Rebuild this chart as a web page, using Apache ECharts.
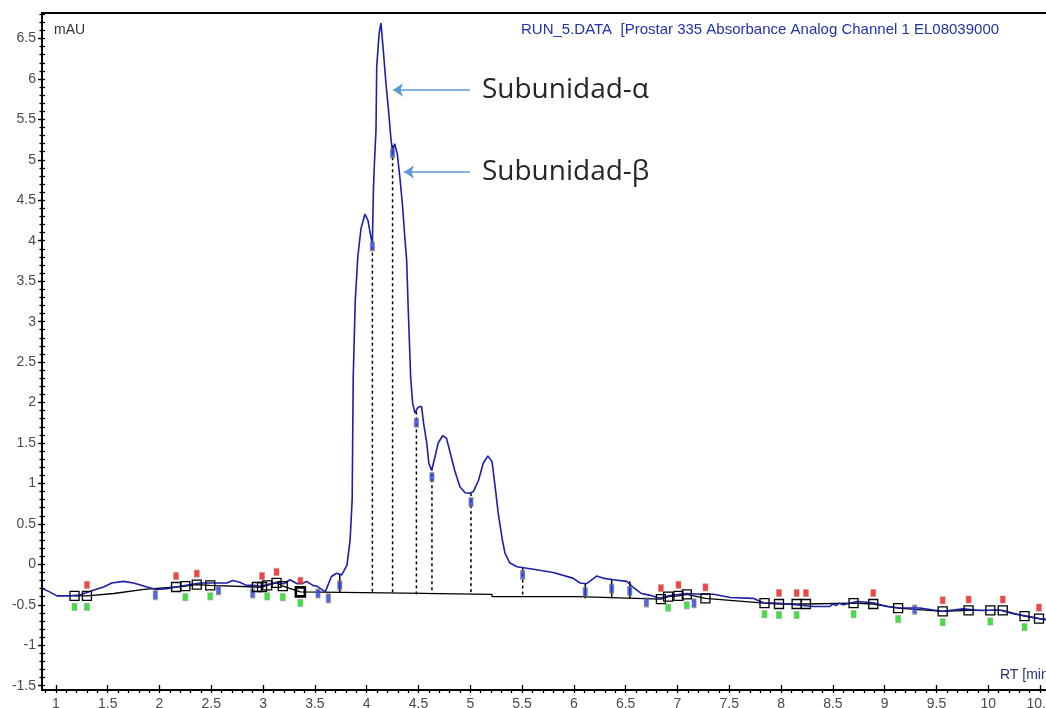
<!DOCTYPE html>
<html>
<head>
<meta charset="utf-8">
<script src="https://cdn.jsdelivr.net/npm/echarts@6/dist/echarts.min.js"></script>
<style>
  html, body { margin: 0; padding: 0; background: #fff; }
  #chart { width: 1046px; height: 708px; }
</style>
</head>
<body>
<div id="chart"></div>
<script>
// trace (RT in min, signal in mAU)
const traceT = [0.87, 0.94, 1.01, 1.14, 1.23, 1.36, 1.46, 1.54, 1.65, 1.75, 1.88, 1.97, 2.07, 2.20, 2.39, 2.55, 2.65, 2.71, 2.78, 2.84,
  2.91, 2.97, 3.04, 3.13, 3.20, 3.26, 3.33, 3.39, 3.42, 3.48, 3.52, 3.60, 3.66, 3.71, 3.76, 3.81, 3.84, 3.86, 3.87, 3.89,
  3.915, 3.945, 3.984, 4.013, 4.04, 4.055, 4.065, 4.075, 4.09, 4.097, 4.12, 4.138, 4.16, 4.186, 4.21, 4.235, 4.25, 4.27, 4.295, 4.32,
  4.347, 4.37, 4.386, 4.40, 4.425, 4.444, 4.466, 4.49, 4.51, 4.53, 4.55, 4.58, 4.60, 4.627, 4.66, 4.69, 4.733, 4.77, 4.80, 4.85,
  4.90, 4.95, 5.00, 5.03, 5.08, 5.125, 5.17, 5.21, 5.24, 5.27, 5.31, 5.335, 5.38, 5.45, 5.61, 5.80, 5.99, 6.06, 6.12, 6.22,
  6.28, 6.38, 6.51, 6.57, 6.65, 6.73, 6.83, 6.91, 7.09, 7.22, 7.35, 7.51, 7.73, 7.83, 7.99, 8.31, 8.47, 8.50, 8.53, 8.56,
  8.60, 8.73, 8.89, 9.02, 9.15, 9.34, 9.47, 9.56, 9.76, 9.92, 10.11, 10.24, 10.37, 10.53, 10.61];
const traceV = [-0.30, -0.34, -0.39, -0.39, -0.38, -0.32, -0.28, -0.23, -0.21, -0.23, -0.28, -0.31, -0.30, -0.27, -0.23, -0.23, -0.23, -0.20, -0.225, -0.26,
  -0.26, -0.27, -0.25, -0.22, -0.24, -0.19, -0.24, -0.23, -0.21, -0.26, -0.27, -0.34, -0.15, -0.11, -0.13, -0.01, 0.30, 0.80, 2.30, 3.27,
  3.81, 4.15, 4.33, 4.25, 4.05, 3.97, 4.63, 4.96, 5.37, 6.15, 6.56, 6.69, 6.36, 5.95, 5.62, 5.25, 5.10, 5.20, 5.08, 4.79,
  4.42, 4.01, 3.76, 3.20, 2.30, 1.99, 1.87, 1.93, 1.95, 1.95, 1.74, 1.50, 1.25, 1.16, 1.33, 1.50, 1.59, 1.56, 1.41, 1.16,
  0.96, 0.885, 0.88, 0.90, 1.04, 1.25, 1.34, 1.27, 0.96, 0.63, 0.30, 0.14, 0.02, -0.03, -0.06, -0.10, -0.17, -0.23, -0.24, -0.145,
  -0.17, -0.19, -0.21, -0.28, -0.36, -0.38, -0.42, -0.39, -0.36, -0.37, -0.37, -0.41, -0.42, -0.475, -0.48, -0.52, -0.52, -0.49, -0.51, -0.48,
  -0.50, -0.46, -0.475, -0.52, -0.54, -0.54, -0.565, -0.58, -0.55, -0.57, -0.565, -0.61, -0.64, -0.68, -0.69];

// integration baseline
const baseT = [1.18, 1.30, 1.56, 1.85, 2.16, 2.25, 2.36, 2.49, 2.94, 2.99, 3.04, 3.13, 3.19, 3.36, 4.37, 4.37, 5.21, 5.21, 6.04, 6.04,
  6.84, 6.91, 7.01, 7.09, 7.27, 7.84, 7.98, 8.15, 8.24, 8.70, 8.89, 9.13, 9.56, 9.81, 10.02, 10.14, 10.35, 10.49, 10.61];
const baseV = [-0.39, -0.39, -0.36, -0.31, -0.28, -0.27, -0.25, -0.26, -0.28, -0.28, -0.26, -0.23, -0.27, -0.34, -0.355, -0.37, -0.37, -0.40, -0.40, -0.42,
  -0.43, -0.40, -0.39, -0.37, -0.42, -0.48, -0.49, -0.49, -0.49, -0.48, -0.49, -0.54, -0.58, -0.57, -0.57, -0.57, -0.64, -0.67, -0.69];

// peak boundary boxes and their event flags (R = red, G = green, B = bold box)
const boxT = [1.18, 1.30, 2.16, 2.25, 2.36, 2.49, 2.94, 2.99, 3.04, 3.13, 3.19, 3.36, 6.84, 6.91, 7.01, 7.09, 7.27, 7.84, 7.98, 8.15,
  8.24, 8.70, 8.89, 9.13, 9.56, 9.81, 10.02, 10.14, 10.35, 10.49];
const boxV = [-0.39, -0.39, -0.28, -0.27, -0.25, -0.26, -0.28, -0.28, -0.26, -0.23, -0.27, -0.34, -0.43, -0.40, -0.39, -0.37, -0.42, -0.48, -0.49, -0.49,
  -0.49, -0.48, -0.49, -0.54, -0.58, -0.57, -0.57, -0.57, -0.64, -0.67];
const boxFlags = ['G', 'RG', 'R', 'G', 'R', 'G', '', 'R', 'G', 'R', 'G', 'RGB', 'R', 'G', 'R', 'G', 'R', 'G', 'RG', 'RG',
  'R', 'G', 'R', 'G', 'RG', 'R', 'G', 'R', 'G', 'R'];

// blue peak markers
const blueT = [1.96, 2.57, 2.90, 3.53, 3.63, 3.74, 4.055, 4.25, 4.48, 4.63, 5.007, 5.506, 6.11, 6.365, 6.54, 6.70, 7.16, 9.29];
const blueV = [-0.38, -0.32, -0.36, -0.36, -0.42, -0.26, 3.93, 5.08, 1.75, 1.08, 0.77, -0.13, -0.34, -0.30, -0.33, -0.47, -0.48, -0.56];

// drop lines: [RT, top, bottom]
const dropDashed = [[4.055, 4.0, -0.355], [4.25, 5.18, -0.355], [4.48, 1.89, -0.37], [4.63, 1.2, -0.37], [5.007, 0.88, -0.37], [5.506, -0.04, -0.40]];
const dropSolid = [[3.74, -0.13, -0.355], [6.11, -0.23, -0.42], [6.365, -0.18, -0.42], [6.54, -0.21, -0.42]];

// annotations: [name, tip RT, tail RT, mAU]
const notes = [['Subunidad-α', 4.254, 4.997, 5.863], ['Subunidad-β', 4.36, 4.997, 4.85]];

const xTicks = [1, 1.5, 2, 2.5, 3, 3.5, 4, 4.5, 5, 5.5, 6, 6.5, 7, 7.5, 8, 8.5, 9, 9.5, 10, 10.5];
const yTicks = [-1.5, -1, -0.5, 0, 0.5, 1, 1.5, 2, 2.5, 3, 3.5, 4, 4.5, 5, 5.5, 6, 6.5];

const X_MIN = 0.866, X_MAX = 10.596, Y_MIN = -1.553, Y_MAX = 6.815;

const xMinor = [];
for (let k = 9; k <= 106; k++) xMinor.push(k / 10);
const yMinor = [];
for (let k = -15; k <= 68; k++) yMinor.push(k / 10);

const pairs = (a, b) => a.map((t, i) => [t, b[i]]);

const chart = echarts.init(document.getElementById('chart'));

const tickStyle = { color: '#000', width: 1.3 };
const labelStyle = { color: '#4a4a4a', fontSize: 14, fontFamily: 'Liberation Sans' };

function dropRender(dash) {
  return function (params, api) {
    const a = api.coord([api.value(0), api.value(1)]);
    const b = api.coord([api.value(0), api.value(2)]);
    return {
      type: 'line',
      shape: { x1: a[0], y1: a[1], x2: b[0], y2: b[1] },
      style: { stroke: '#000', lineWidth: 1.5, lineDash: dash }
    };
  };
}

const boxData = pairs(boxT, boxV).map((d, i) => boxFlags[i].indexOf('B') >= 0
  ? { value: d, itemStyle: { borderWidth: 2.6 } }
  : d);

chart.setOption({
  animation: false,
  grid: {
    left: 42, right: -4, top: 13, bottom: 18,
    show: true, borderColor: '#000', borderWidth: 2,
    outerBoundsMode: 'none', containLabel: false
  },
  xAxis: [{
    type: 'value', min: X_MIN, max: X_MAX, position: 'bottom',
    axisLine: { onZero: false, lineStyle: { color: '#000', width: 2 } },
    axisTick: { show: true, inside: true, length: 5, customValues: xTicks, lineStyle: tickStyle },
    axisLabel: Object.assign({ customValues: xTicks, margin: 7, formatter: v => String(v) }, labelStyle),
    splitLine: { show: false }
  }, {
    type: 'value', min: X_MIN, max: X_MAX, position: 'bottom',
    axisLine: { show: false, onZero: false },
    axisTick: { show: true, inside: false, length: 3, customValues: xMinor, lineStyle: tickStyle },
    axisLabel: { show: false },
    splitLine: { show: false }
  }],
  yAxis: [{
    type: 'value', min: Y_MIN, max: Y_MAX, position: 'left',
    axisLine: { show: true, onZero: false, lineStyle: { color: '#000', width: 2 } },
    axisTick: { show: true, inside: false, length: 4, customValues: yTicks, lineStyle: tickStyle },
    axisLabel: Object.assign({ customValues: yTicks, margin: 6, formatter: v => String(v) }, labelStyle),
    splitLine: { show: false }
  }, {
    type: 'value', min: Y_MIN, max: Y_MAX, position: 'left',
    axisLine: { show: false, onZero: false },
    axisTick: { show: true, inside: true, length: 3, customValues: yMinor, lineStyle: tickStyle },
    axisLabel: { show: false },
    splitLine: { show: false }
  }, {
    type: 'value', min: Y_MIN, max: Y_MAX, position: 'left',
    axisLine: { show: false, onZero: false },
    axisTick: { show: true, inside: false, length: 2.5, customValues: yMinor, lineStyle: tickStyle },
    axisLabel: { show: false },
    splitLine: { show: false }
  }],
  graphic: [
    { type: 'text', left: 54, top: 23, style: { text: 'mAU', fill: '#333', font: '14px "Liberation Sans"' } },
    { type: 'text', left: 521, top: 22, style: { text: 'RUN_5.DATA  [Prostar 335 Absorbance Analog Channel 1 EL08039000', fill: '#2232a8', font: '15px "Liberation Sans"' } },
    { type: 'text', left: 1000, top: 668, style: { text: 'RT [min]', fill: '#2a3070', font: '14px "Liberation Sans"' } }
  ],
  series: [{
    name: 'baseline', type: 'line', data: pairs(baseT, baseV), symbol: 'none', z: 2,
    lineStyle: { color: '#000', width: 1.3 }
  }, {
    name: 'dropDashed', type: 'custom', data: dropDashed, renderItem: dropRender([3, 3]), z: 2,
    encode: { x: 0, y: [1, 2] }
  }, {
    name: 'dropSolid', type: 'custom', data: dropSolid, renderItem: dropRender(null), z: 2,
    encode: { x: 0, y: [1, 2] }
  }, {
    name: 'trace', type: 'line', data: pairs(traceT, traceV), symbol: 'none', z: 3,
    lineStyle: { color: '#1e1ea8', width: 1.6 },
    markLine: {
      silent: true, symbol: ['arrow', 'none'], symbolSize: [10, 10],
      lineStyle: { color: '#5b9bd5', width: 1.5, type: 'solid' },
      label: { show: true, position: 'end', distance: 12, formatter: '{b}', color: '#262626', fontSize: 28, fontFamily: 'Open Sans' },
      data: notes.map(n => [{ name: n[0], coord: [n[1], n[3]] }, { coord: [n[2], n[3]] }])
    }
  }, {
    name: 'blue', type: 'scatter', data: pairs(blueT, blueV), symbol: 'rect', symbolSize: [4, 8], z: 4,
    itemStyle: { color: '#1f3cff', borderColor: 'rgba(110,110,110,0.75)', borderWidth: 1.5 }
  }, {
    name: 'boxes', type: 'scatter', data: boxData, symbol: 'rect', symbolSize: 9, z: 5,
    itemStyle: { color: 'rgba(255,255,255,0.01)', borderColor: '#000', borderWidth: 1.3, opacity: 1 }
  }, {
    name: 'red', type: 'scatter', z: 5,
    data: pairs(boxT, boxV).filter((d, i) => boxFlags[i].indexOf('R') >= 0),
    symbol: 'rect', symbolSize: [5, 7], symbolOffset: [0, -11],
    itemStyle: { color: '#ff1010', borderColor: 'rgba(140,140,140,0.6)', borderWidth: 1 }
  }, {
    name: 'green', type: 'scatter', z: 5,
    data: pairs(boxT, boxV).filter((d, i) => boxFlags[i].indexOf('G') >= 0),
    symbol: 'rect', symbolSize: [5, 7], symbolOffset: [0, 11],
    itemStyle: { color: '#10dd10', borderColor: 'rgba(140,140,140,0.6)', borderWidth: 1 }
  }]
});
</script>
</body>
</html>
